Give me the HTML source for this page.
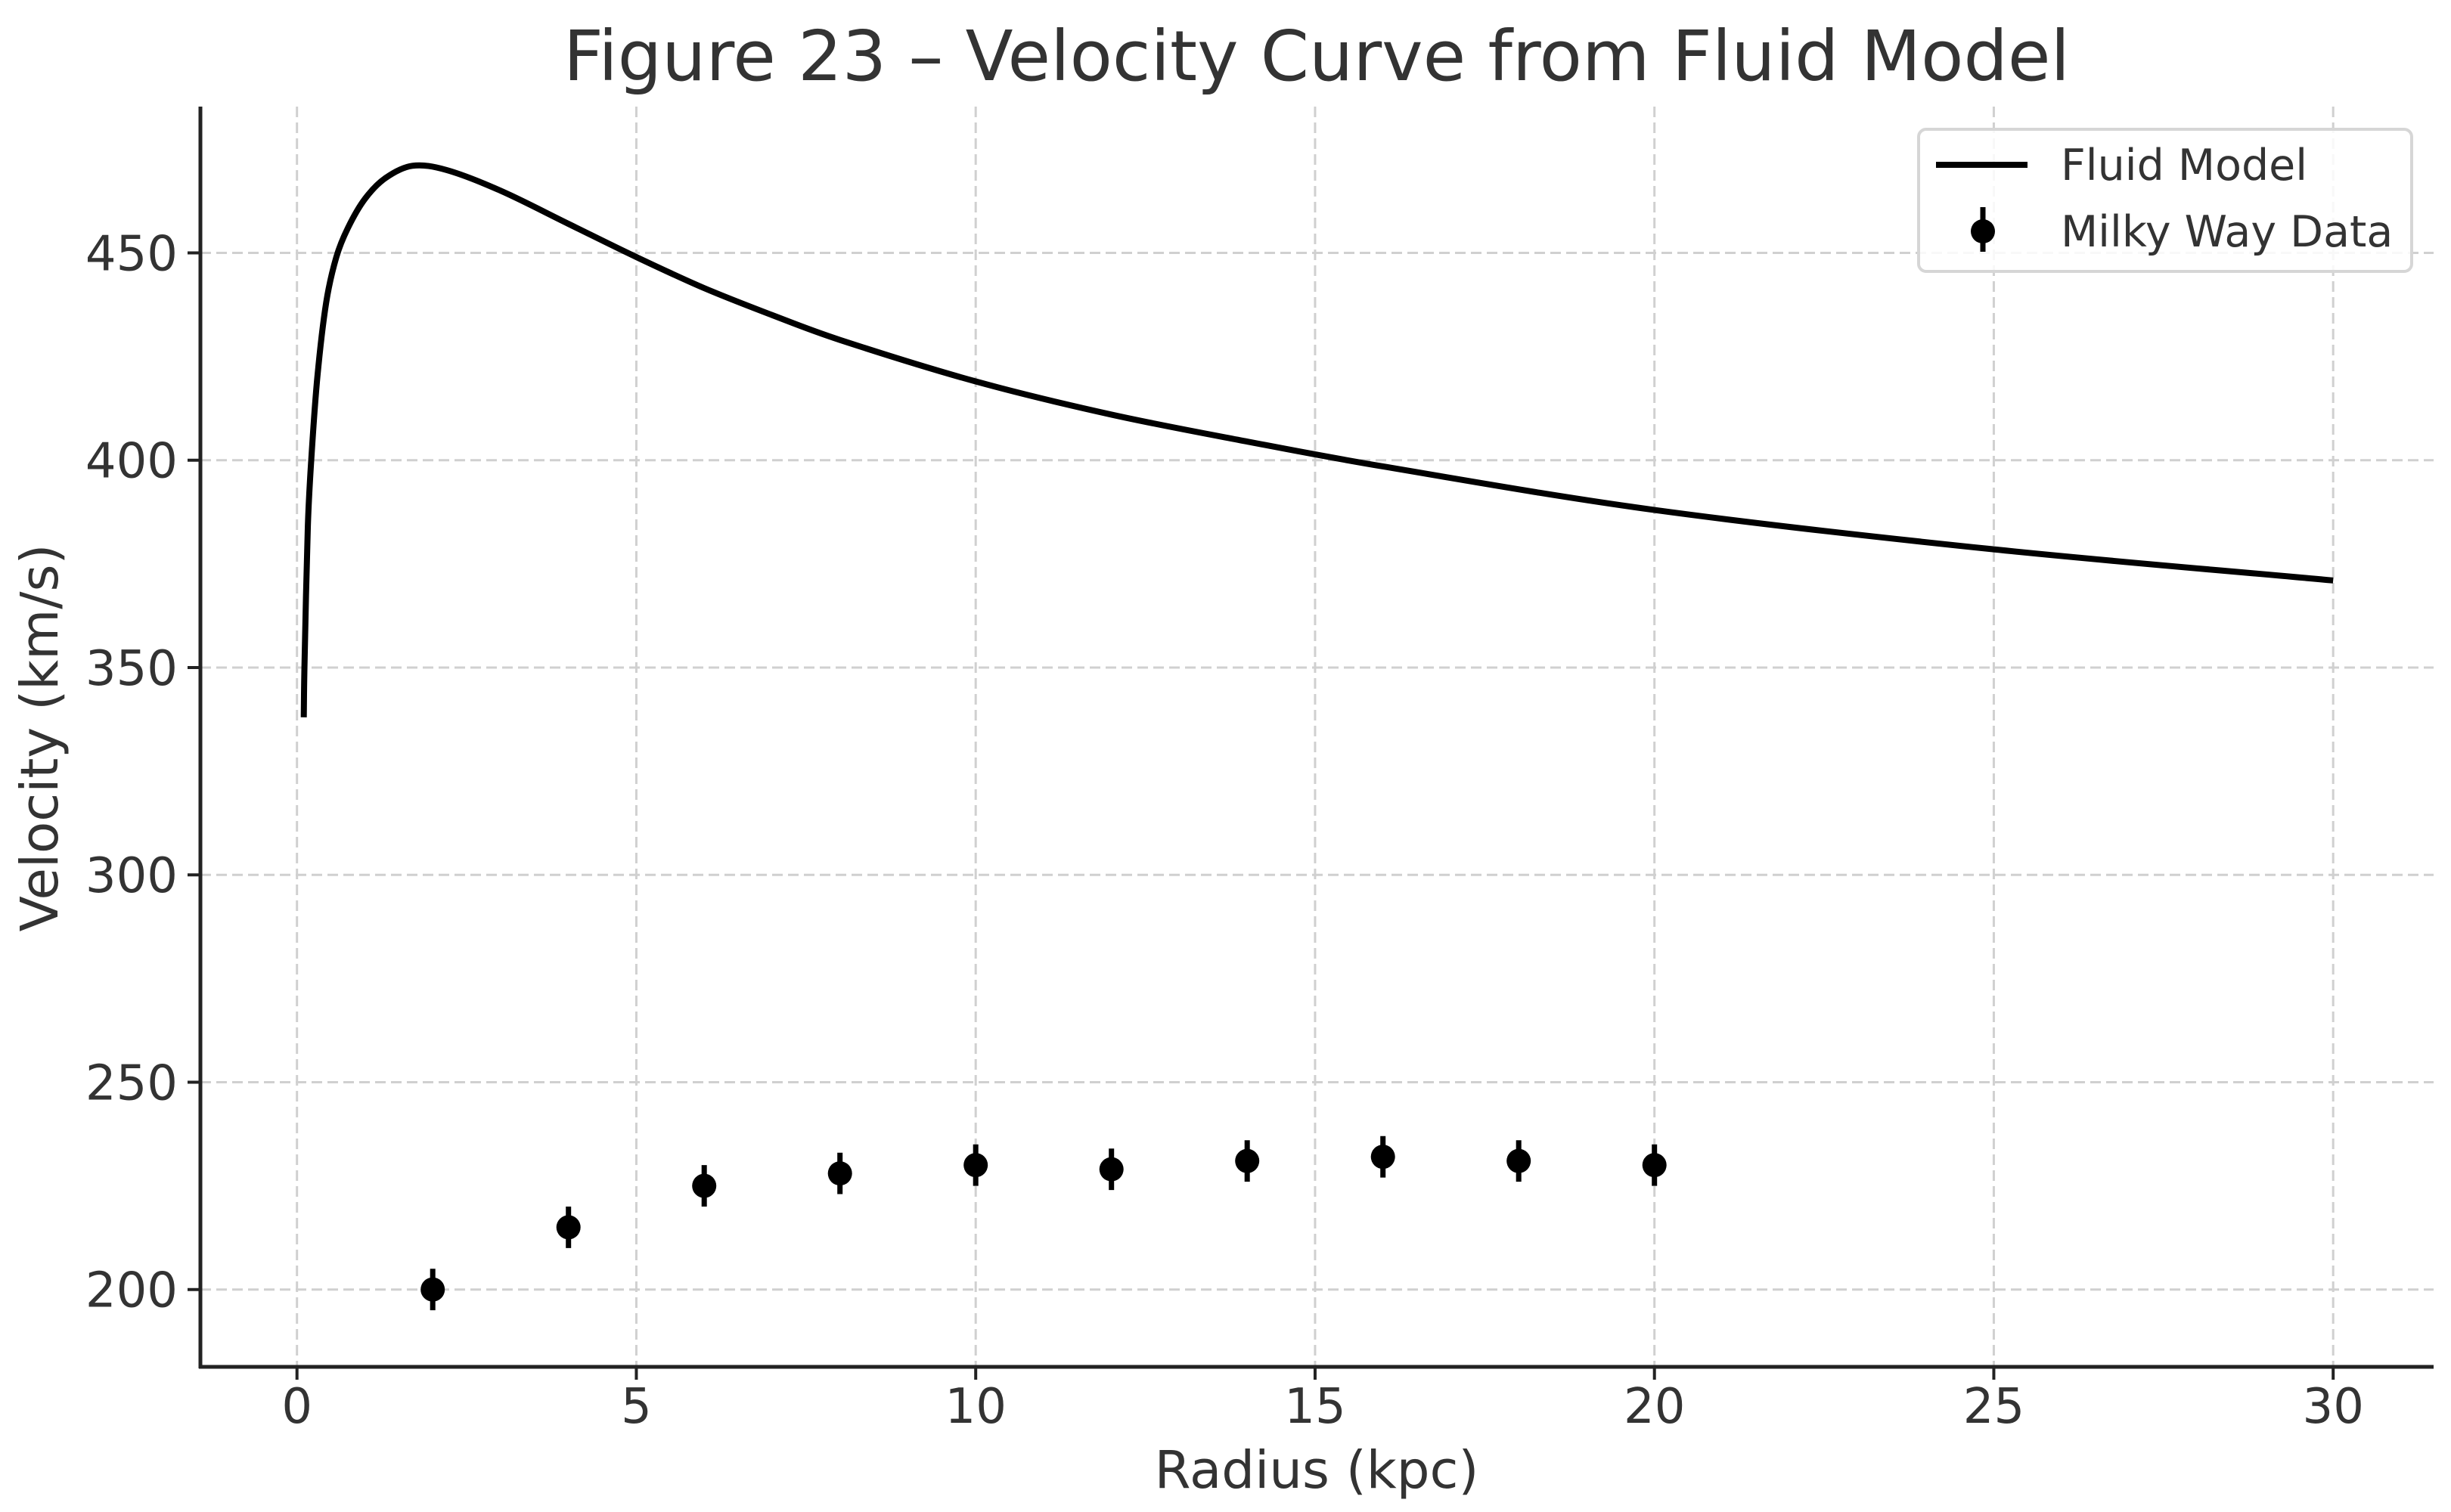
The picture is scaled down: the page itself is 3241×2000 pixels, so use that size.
<!DOCTYPE html>
<html><head><meta charset="utf-8"><style>
html,body{margin:0;padding:0;background:#fff;}
svg{display:block;font-family:"DejaVu Sans","Liberation Sans",sans-serif;}
</style></head><body>
<svg id="chart" width="3241" height="2000" viewBox="0 0 3241 2000">
<text x="1741" y="106" text-anchor="middle" font-size="92" fill="#333">Figure 23 – Velocity Curve from Fluid Model</text>
<g id="grid"></g>
<g id="axes"></g>
<g id="series"></g>
<text x="1741" y="1968" text-anchor="middle" font-size="69" fill="#333">Radius (kpc)</text>
<text transform="translate(76,976) rotate(-90)" text-anchor="middle" font-size="69" fill="#333">Velocity (km/s)</text>
<g>
<rect x="2537" y="171" width="652" height="188" rx="10" fill="#fff" fill-opacity="0.85" stroke="#d6d6d6" stroke-width="4"/>
<line x1="2560" y1="218" x2="2681" y2="218" stroke="#000" stroke-width="8"/>
<text x="2725" y="238" font-size="57" fill="#333">Fluid Model</text>
<line x1="2622" y1="274" x2="2622" y2="333" stroke="#000" stroke-width="7"/>
<circle cx="2622" cy="306" r="16" fill="#000"/>
<text x="2725" y="326" font-size="57" fill="#333">Milky Way Data</text>
</g>
</svg>
<script>
const modelR = [0.1,0.11,0.16,0.21,0.3,0.43,0.58,0.75,1,1.3,1.7,2.2,3,4,5,6,7,8,10,12,14,16,20,25,30];
const modelV = [338,350,384,400,420,438,449,456,463,468,471,470,465,457,449,441.5,435,429,419,411,404.5,398.5,388,378.5,371];
const dataR = [2,4,6,8,10,12,14,16,18,20];
const dataV = [200,215,225,228,230,229,231,232,231,230];
const dataErr = [5,5,5,5,5,5,5,5,5,5];
const xTicks = [0,5,10,15,20,25,30];
const yTicks = [200,250,300,350,400,450];

const NS='http://www.w3.org/2000/svg';
const L=265,R=3218,T=141,B=1808;
function sx(v){return 392.7+(v-0)*(3085.2-392.7)/30;}
function sy(v){return 1705.7-(v-200)*(1705.7-334.5)/250;}
function mk(tag,attrs,parent){const e=document.createElementNS(NS,tag);for(const k in attrs)e.setAttribute(k,attrs[k]);parent.appendChild(e);return e;}
const grid=document.getElementById('grid'),axes=document.getElementById('axes'),series=document.getElementById('series');

xTicks.forEach(t=>{
  const g=mk('line',{x1:sx(t),x2:sx(t),y1:T,y2:B,stroke:'#d0d0d0','stroke-width':3,'stroke-dasharray':'14 7'},grid);
  
  
  const tk=mk('line',{x1:sx(t),x2:sx(t),y1:B,y2:B+17,stroke:'#222','stroke-width':4},axes);
  
  
  const lb=mk('text',{x:sx(t),y:1882,'text-anchor':'middle','font-size':64,fill:'#333'},axes);
  lb.textContent=t;
  
  
});
yTicks.forEach(t=>{
  const g=mk('line',{x1:L,x2:R,y1:sy(t),y2:sy(t),stroke:'#d0d0d0','stroke-width':3,'stroke-dasharray':'14 7'},grid);
  
  
  const tk=mk('line',{x1:L-17,x2:L,y1:sy(t),y2:sy(t),stroke:'#222','stroke-width':4},axes);
  
  
  const lb=mk('text',{x:L-30,y:sy(t)+23,'text-anchor':'end','font-size':64,fill:'#333'},axes);
  lb.textContent=t;
  
  
});
const ls=mk('line',{x1:L,x2:L,y1:T,y2:B+2,stroke:'#222','stroke-width':5},axes);


const bs=mk('line',{x1:L-2,x2:R,y1:B,y2:B,stroke:'#222','stroke-width':5},axes);



// centripetal Catmull-Rom through model points
const P=modelR.map((r,i)=>[sx(r),sy(modelV[i])]);
function dist(a,b){return Math.pow(Math.hypot(a[0]-b[0],a[1]-b[1]),0.5)||1e-6;}
let d='M'+P[0][0]+','+P[0][1];
for(let i=0;i<P.length-1;i++){
  const p0=i>0?P[i-1]:[2*P[0][0]-P[1][0],2*P[0][1]-P[1][1]];
  const p1=P[i],p2=P[i+1];
  const p3=i+2<P.length?P[i+2]:[2*P[i+1][0]-P[i][0],2*P[i+1][1]-P[i][1]];
  const d1=dist(p0,p1),d2=dist(p1,p2),d3=dist(p2,p3);
  const c1=[0,1].map(k=>p1[k]+(d2*d2*(p2[k]-p0[k])/(d1*(d1+d2))-0+ (d1/(d1+d2))*0)*0 + (p2[k]-p0[k])*d2/(3*(d1+d2)));
  const c2=[0,1].map(k=>p2[k]-(p3[k]-p1[k])*d2/(3*(d2+d3)));
  d+=' C'+c1[0]+','+c1[1]+' '+c2[0]+','+c2[1]+' '+p2[0]+','+p2[1];
}
const path=mk('path',{d:d,fill:'none',stroke:'#000','stroke-width':8,'stroke-linejoin':'round'},series);



dataR.forEach((r,i)=>{
  const eb=mk('line',{x1:sx(r),x2:sx(r),y1:sy(dataV[i]+dataErr[i]),y2:sy(dataV[i]-dataErr[i]),stroke:'#000','stroke-width':7},series);
  
  
  const c=mk('circle',{cx:sx(r),cy:sy(dataV[i]),r:16,fill:'#000'},series);
  
  
});
</script>
</body></html>
